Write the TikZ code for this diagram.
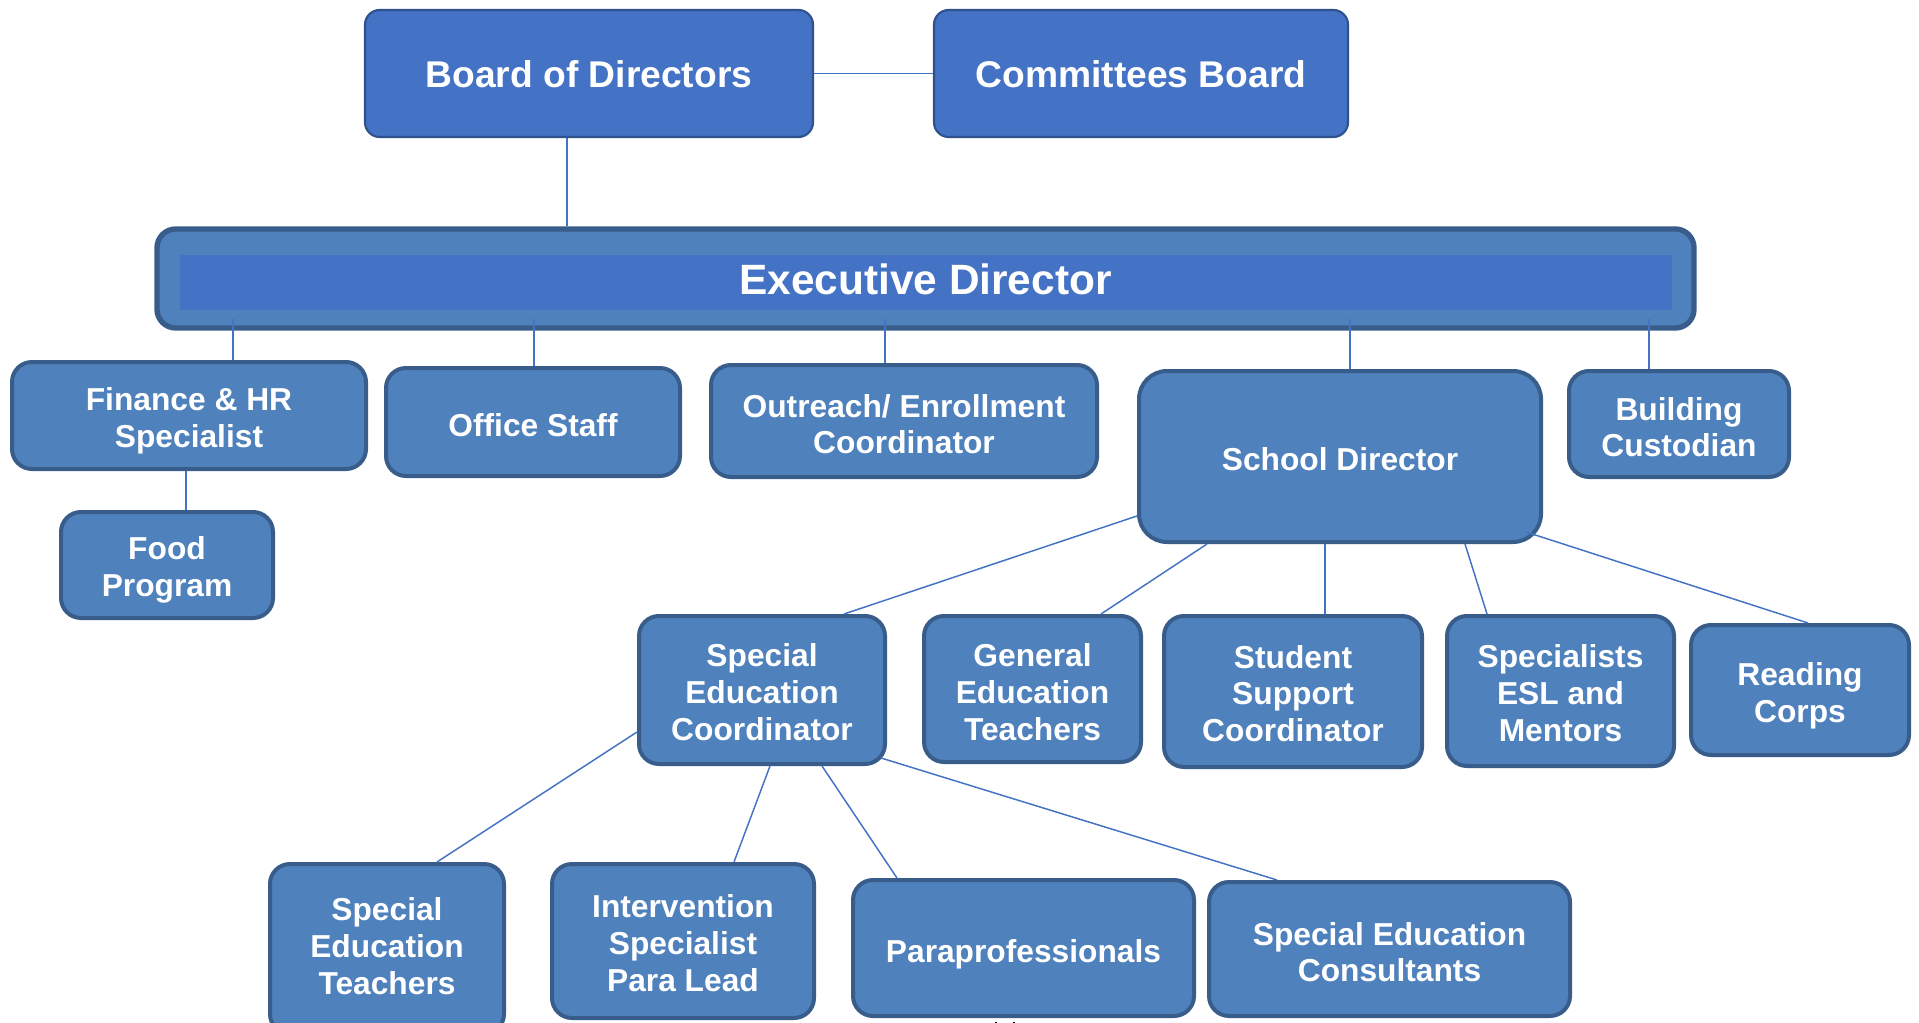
\documentclass[tikz,border=0pt]{standalone}
\usepackage{fontspec}
\setmainfont{Liberation Sans}
\usetikzlibrary{calc}
\definecolor{topfill}{HTML}{4472C4}
\definecolor{topdraw}{HTML}{2F528F}
\definecolor{boxfill}{HTML}{4F81BD}
\definecolor{boxdraw}{HTML}{385D8A}
\definecolor{linec}{HTML}{4472C4}
% name, x1, y1, x2, y2, text, style, text shift (px down)
\newcommand\bx[8]{\node[#7, minimum width={(#4-#2)*0.75pt}, minimum height={(#5-#3)*0.75pt}] (#1) at ({(#2+#4)/2},{(#3+#5)/2}) {};
  \node[txtstyle, #7, draw=none, fill=none] (#1t) at ($(#1.center)+(0,#8)$) {#6};}
\tikzset{
  txtstyle/.style={minimum width=0pt, minimum height=0pt},
  topbox/.style={draw=topdraw, fill=topfill, line width=1.6pt, rounded corners=11pt, inner sep=0pt, text=white, align=center, font=\bfseries\fontsize{27.9}{33}\selectfont},
  orgbox/.style={draw=boxdraw, fill=boxfill, line width=3pt, rounded corners=15pt, inner sep=0pt, text=white, align=center, font=\bfseries\fontsize{23.8}{27.5}\selectfont},
  conn/.style={draw=linec, line width=1.1pt},
}
\begin{document}
\begin{tikzpicture}[x=0.75pt,y=-0.75pt]
\useasboundingbox[fill=white] (0,0) rectangle (1919,1023);
% top row
\bx{bod}{365}{10}{813}{137}{Board of Directors}{topbox}{1}
\bx{com}{934}{10}{1348}{137}{Committees Board}{topbox}{1}
% executive director
\node[orgbox, line width=4pt, rounded corners=14pt, minimum width={1537*0.75pt}, minimum height={99*0.75pt}] (exec) at (925.5,278.5) {};
\fill[topfill] (180,255) rectangle (1672,310);
\node[text=white, font=\bfseries\fontsize{31.8}{36}\selectfont] (exect) at ($(exec.center)+(0,1)$) {Executive Director};
% second row
\bx{fin}{12}{362}{366}{469}{Finance \& HR\\Specialist}{orgbox}{5}
\bx{off}{386}{368}{680}{476}{Office Staff}{orgbox}{3}
\bx{out}{711}{365}{1097}{477}{Outreach/ Enrollment\\Coordinator}{orgbox}{3}
\bx{sd}{1139}{371}{1541}{542}{School Director}{orgbox, rounded corners=21pt}{3}
\bx{bc}{1569}{371}{1789}{477}{Building\\Custodian}{orgbox}{3}
\bx{food}{61}{512}{273}{618}{Food\\Program}{orgbox}{5}
% third row
\bx{sec}{639}{616}{885}{764}{Special\\Education\\Coordinator}{orgbox}{2}
\bx{get}{924}{616}{1141}{762}{General\\Education\\Teachers}{orgbox}{3}
\bx{ssc}{1164}{616}{1422}{767}{Student\\Support\\Coordinator}{orgbox}{2}
\bx{spe}{1447}{616}{1674}{766}{Specialists\\ESL and\\Mentors}{orgbox}{2}
\bx{rc}{1691}{625}{1909}{755}{Reading\\Corps}{orgbox}{6}
% fourth row
\bx{set}{270}{864}{504}{1034}{Special\\Education\\Teachers}{orgbox}{-3}
\bx{isp}{552}{864}{814}{1018}{Intervention\\Specialist\\Para Lead}{orgbox}{2}
\bx{par}{853}{880}{1194}{1016}{Paraprofessionals}{orgbox}{6}
\bx{sec2}{1209}{882}{1570}{1016}{Special Education\\Consultants}{orgbox}{3}
% small marks below Paraprofessionals
\draw[black, line width=1.2pt] ($(par.south -| 996,0)+(0,4)$) -- ++(0,8);
\draw[black, line width=1.2pt] ($(par.south -| 1014,0)+(0,4)$) -- ++(0,8);
% connectors
\draw[conn] (bod.east) -- (com.west);
\draw[conn] (bod.south -| 567,0) -- (exec.north -| 567,0);
\draw[conn] ($(exec.south -| 233,0)+(0,-12)$) -- (fin.north -| 233,0);
\draw[conn] ($(exec.south -| 534,0)+(0,-12)$) -- (off.north -| 534,0);
\draw[conn] ($(exec.south -| 885,0)+(0,-12)$) -- (out.north -| 885,0);
\draw[conn] ($(exec.south -| 1350,0)+(0,-12)$) -- (sd.north -| 1350,0);
\draw[conn] ($(exec.south -| 1649,0)+(0,-12)$) -- (bc.north -| 1649,0);
\draw[conn] (fin.south -| 186,0) -- (food.north -| 186,0);
% school director
\draw[conn] (sd.west |- 0,516) -- (sec.north -| 844,0);
\draw[conn] (sd.south -| 1207,0) -- (get.north -| 1101,0);
\draw[conn] (sd.south -| 1325,0) -- (ssc.north -| 1325,0);
\draw[conn] (sd.south -| 1465,0) -- (spe.north -| 1487,0);
\draw[conn] ($(sd.east |- 0,532)+(-17,0)$) -- (rc.north -| 1808,0);
% special education coordinator
\draw[conn] (sec.west |- 0,732) -- (set.north -| 437,0);
\draw[conn] (sec.south -| 770,0) -- (isp.north -| 734,0);
\draw[conn] (sec.south -| 822,0) -- (par.north -| 897,0);
\draw[conn] ($(sec.east |- 0,758)+(-6,0)$) -- (sec2.north -| 1277,0);
\end{tikzpicture}
\end{document}
